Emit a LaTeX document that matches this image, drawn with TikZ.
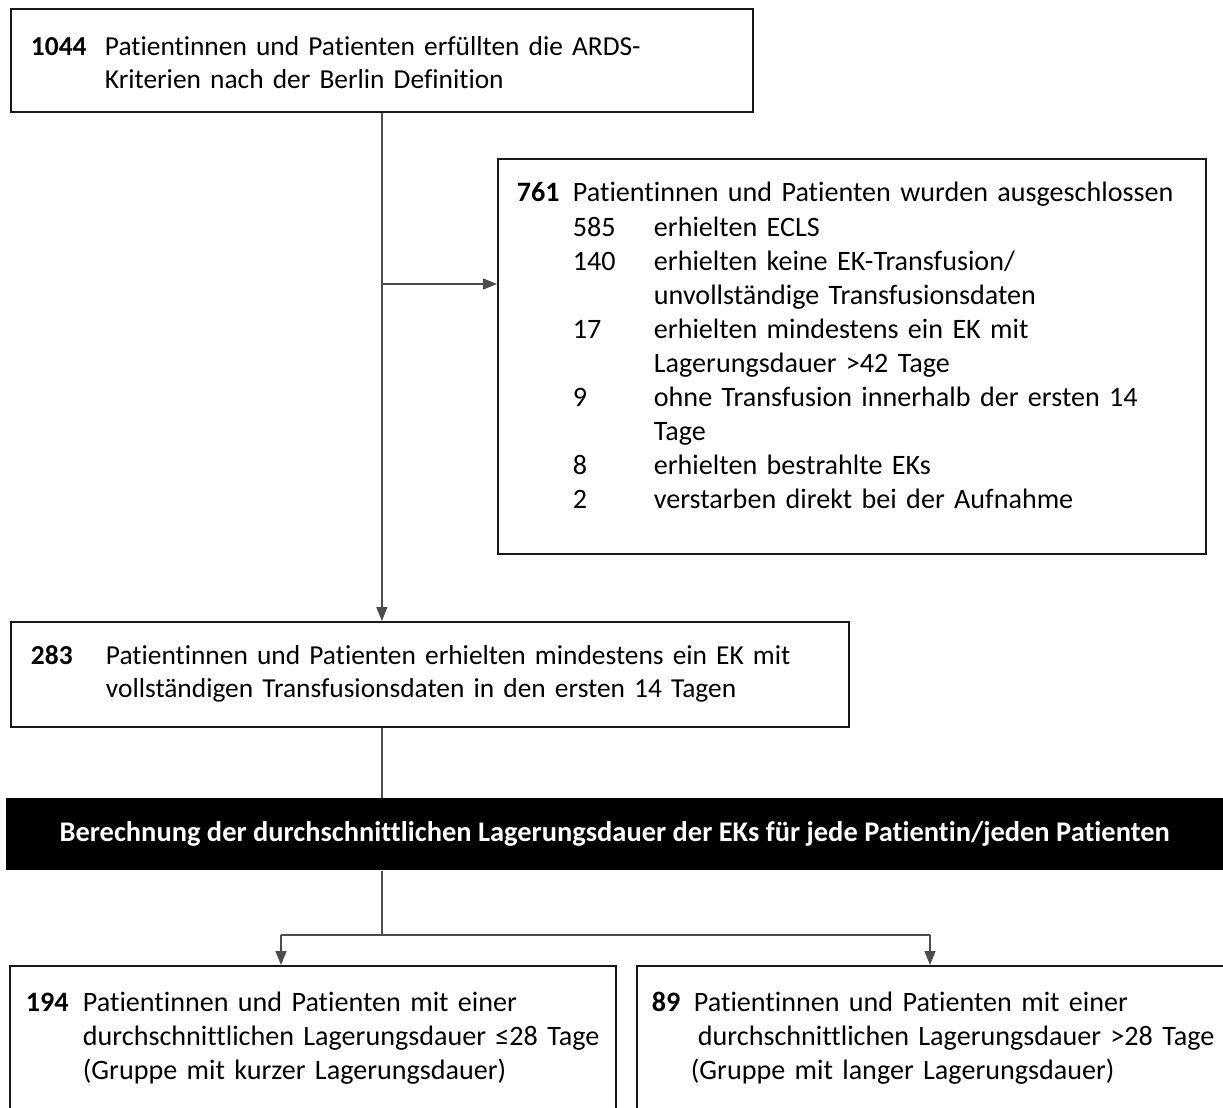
\documentclass[tikz,border=0pt]{standalone}
\usepackage{fontspec}
\setmainfont{Carlito}[Ligatures=NoCommon]
\usetikzlibrary{arrows.meta,positioning}

\tikzset{
  box/.style={draw=black!90, line width=1.1pt, anchor=north west, align=left,
    inner ysep=0pt, font=\fontsize{15.6pt}{18.6pt}\selectfont},
  wide/.style={font=\fontsize{16pt}{19.4pt}\selectfont},
  line/.style={draw=black!70, line width=0.8pt},
  arrow/.style={line, -{Triangle[length=0.28cm,width=0.22cm]}},
  bar/.style={fill=black, text=white, anchor=north west, inner sep=0pt,
    font=\fontsize{16.2pt}{19pt}\selectfont\bfseries},
}

\begin{document}
\begin{tikzpicture}[x=0.02cm, y=-0.02cm]
	\useasboundingbox (0,0) rectangle (1223,1108);
	\clip (0,0) rectangle (1223,1108);
	% boxes
	\node[box, text width=14.04cm, inner xsep=0.4cm, minimum height=2.06cm] (start) at (10,8)
	{\begin{tabular}{@{}p{1.48cm}@{}l@{}}
	\rule{0pt}{19pt}\textbf{1044} & Patientinnen und Patienten erfüllten die ARDS-\\
	 & Kriterien nach der Berlin Definition
	\end{tabular}};
	\node[box, wide, text width=13.4cm, inner xsep=0.38cm, minimum height=7.9cm] (excl) at (497,158)
	{\begin{tabular}{@{}p{1.12cm}@{}p{1.62cm}@{}l@{}}
	\textbf{761} & \multicolumn{2}{@{}l@{}}{Patientinnen und Patienten wurden ausgeschlossen}\\
	 & 585 & erhielten ECLS\\
	 & 140 & erhielten keine EK-Transfusion/\\
	 &     & unvollständige Transfusionsdaten\\
	 & 17  & erhielten mindestens ein EK mit\\
	 &     & Lagerungsdauer >42 Tage\\
	 & 9   & ohne Transfusion innerhalb der ersten 14\\
	 &     & Tage\\
	 & 8   & erhielten bestrahlte EKs\\
	 & 2   & verstarben direkt bei der Aufnahme\\[9pt]
	\end{tabular}};
	\node[box, text width=15.96cm, inner xsep=0.4cm, minimum height=2.1cm] (incl) at (10,621)
	{\begin{tabular}{@{}p{1.5cm}@{}l@{}}
	\textbf{283} & Patientinnen und Patienten erhielten mindestens ein EK mit\\
	 & vollständigen Transfusionsdaten in den ersten 14 Tagen
	\end{tabular}};
	\node[bar, minimum width=24.34cm, minimum height=1.44cm] (calc) at (6,798)
	{Berechnung der durchschnittlichen Lagerungsdauer der EKs für jede Patientin/jeden Patienten};
	\node[box, wide, text width=11.48cm, inner xsep=0.32cm, minimum height=2.9cm] (short) at (9,965)
	{\begin{tabular}{@{}p{1.14cm}@{}l@{}}
	\textbf{194} & Patientinnen und Patienten mit einer\\
	 & durchschnittlichen Lagerungsdauer ≤28 Tage\\
	 & (Gruppe mit kurzer Lagerungsdauer)
	\end{tabular}};
	\node[box, wide, text width=11.14cm, inner xsep=0.3cm, minimum height=2.9cm] (long) at (636,965)
	{\begin{tabular}{@{}p{0.84cm}@{}l@{}}
	\textbf{89} & Patientinnen und Patienten mit einer\\
	 & \hspace*{0.08cm}durchschnittlichen Lagerungsdauer >28 Tage\\
	 & \hspace*{-0.06cm}(Gruppe mit langer Lagerungsdauer)
	\end{tabular}};
	% connectors
	\coordinate (split) at (382,284);
	\coordinate (fork) at (382,935);
	\coordinate (forkL) at (281,935);
	\coordinate (forkR) at (930,935);
	\draw[arrow] (start.south) -- (start.south |- incl.north);
	\draw[arrow] (split) -- (split -| excl.west);
	\draw[line] (start.south |- incl.south) -- (start.south |- calc.north);
	\draw[line] (fork |- calc.south) -- (fork);
	\draw[line] (forkL) -- (forkR);
	\draw[arrow] (forkL) -- (forkL |- short.north);
	\draw[arrow] (forkR) -- (forkR |- long.north);
\end{tikzpicture}
\end{document}
